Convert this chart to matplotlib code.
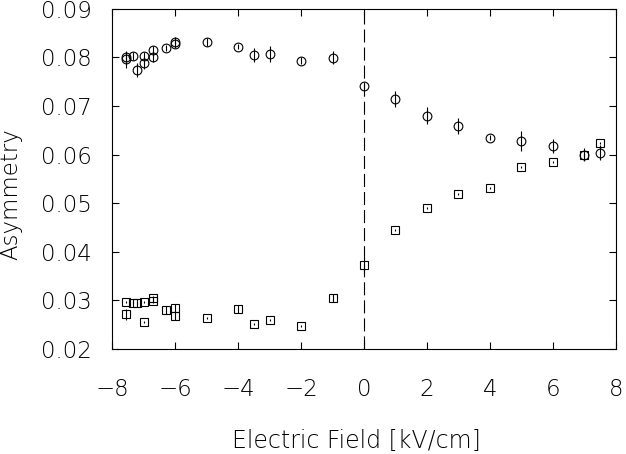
import matplotlib
matplotlib.use('Agg')
import matplotlib.pyplot as plt

# circles: asymmetry vs field
circ_x = [-7.55, -7.55, -7.35, -7.2, -7.0, -7.0, -6.7, -6.7, -6.3, -6.0, -6.0,
          -5.0, -4.0, -3.5, -3.0, -2.0, -1.0, 0.0, 1.0, 2.0, 3.0, 4.0, 5.0, 6.0, 7.0, 7.5]
circ_y = [0.0800, 0.0796, 0.0802, 0.0774, 0.0803, 0.0789, 0.0816, 0.0800, 0.0819, 0.0832, 0.0827,
          0.0832, 0.0822, 0.0805, 0.0807, 0.0793, 0.0799, 0.0742, 0.0714, 0.0680, 0.0659, 0.0635,
          0.0628, 0.0618, 0.0600, 0.0604]
circ_err = [0.0010, 0.0018, 0.0008, 0.0014, 0.0008, 0.0012, 0.0008, 0.0010, 0.0006, 0.0010, 0.0008,
            0.0008, 0.0005, 0.0015, 0.0017, 0.0007, 0.0013, 0.0007, 0.0016, 0.0018, 0.0016, 0.0006,
            0.0020, 0.0015, 0.0013, 0.0015]

# squares
sq_x = [-7.55, -7.55, -7.35, -7.2, -7.0, -7.0, -6.7, -6.7, -6.3, -6.0, -6.0,
        -5.0, -4.0, -3.5, -3.0, -2.0, -1.0, 0.0, 1.0, 2.0, 3.0, 4.0, 5.0, 6.0, 7.0, 7.5]
sq_y = [0.0297, 0.0271, 0.0294, 0.0294, 0.0297, 0.0256, 0.0305, 0.0299, 0.0281, 0.0285, 0.0268,
        0.0264, 0.0282, 0.0252, 0.0260, 0.0248, 0.0305, 0.0373, 0.0445, 0.0491, 0.0519, 0.0532,
        0.0574, 0.0585, 0.0600, 0.0624]
sq_err = [0.0002, 0.0012, 0.0002, 0.0002, 0.0002, 0.0002, 0.0004, 0.0004, 0.0008, 0.0008, 0.0008,
          0.0002, 0.0008, 0.0002, 0.0002, 0.0002, 0.0008, 0.0016, 0.0002, 0.0002, 0.0002, 0.0002,
          0.0002, 0.0002, 0.0008, 0.0002]

x_ticks = [-8, -6, -4, -2, 0, 2, 4, 6, 8]
y_ticks = [0.02, 0.03, 0.04, 0.05, 0.06, 0.07, 0.08, 0.09]

plt.rcParams['font.family'] = ['DejaVu Sans']
plt.rcParams['font.weight'] = 'ultralight'
plt.rcParams['axes.unicode_minus'] = True
plt.rcParams['lines.scale_dashes'] = False

fig = plt.figure(figsize=(6.26, 4.54), dpi=100)
fig.patch.set_facecolor('white')
ax = fig.add_axes([0.1794, 0.2313, 0.8041, 0.7495])

ax.axvline(0, color='black', linewidth=0.8, dashes=(9.4, 3.6), zorder=1)

ax.errorbar(circ_x, circ_y, yerr=circ_err, fmt='o', markersize=6.3,
            markerfacecolor='none', markeredgecolor='black', markeredgewidth=0.8,
            ecolor='black', elinewidth=0.8, capsize=0)
ax.errorbar(sq_x, sq_y, yerr=sq_err, fmt='s', markersize=5.4,
            markerfacecolor='none', markeredgecolor='black', markeredgewidth=0.8,
            ecolor='black', elinewidth=0.8, capsize=0)

ax.set_xlim(-8, 8)
ax.set_ylim(0.02, 0.09)
ax.set_xticks(x_ticks)
ax.set_yticks(y_ticks)
ax.set_xticklabels([str(v) if v >= 0 else '\u2212' + str(-v) for v in x_ticks])
ax.set_yticklabels([f'{v:.2f}' for v in y_ticks])

ax.tick_params(direction='in', length=5, width=0.8, top=True, right=True,
               labelsize=16.5, colors='black')
ax.tick_params(axis='x', pad=21)
ax.tick_params(axis='y', pad=15)
for spine in ax.spines.values():
    spine.set_linewidth(0.8)

fig.text(11 / 626, 1 - 194 / 454, 'Asymmetry', rotation=90, ha='center', va='center',
         fontsize=16.5)
fig.text(356.5 / 626, 1 - 441 / 454, 'Electric Field [kV/cm]', ha='center', va='center',
         fontsize=17)

fig.savefig('out.png', dpi=100, facecolor='white')
